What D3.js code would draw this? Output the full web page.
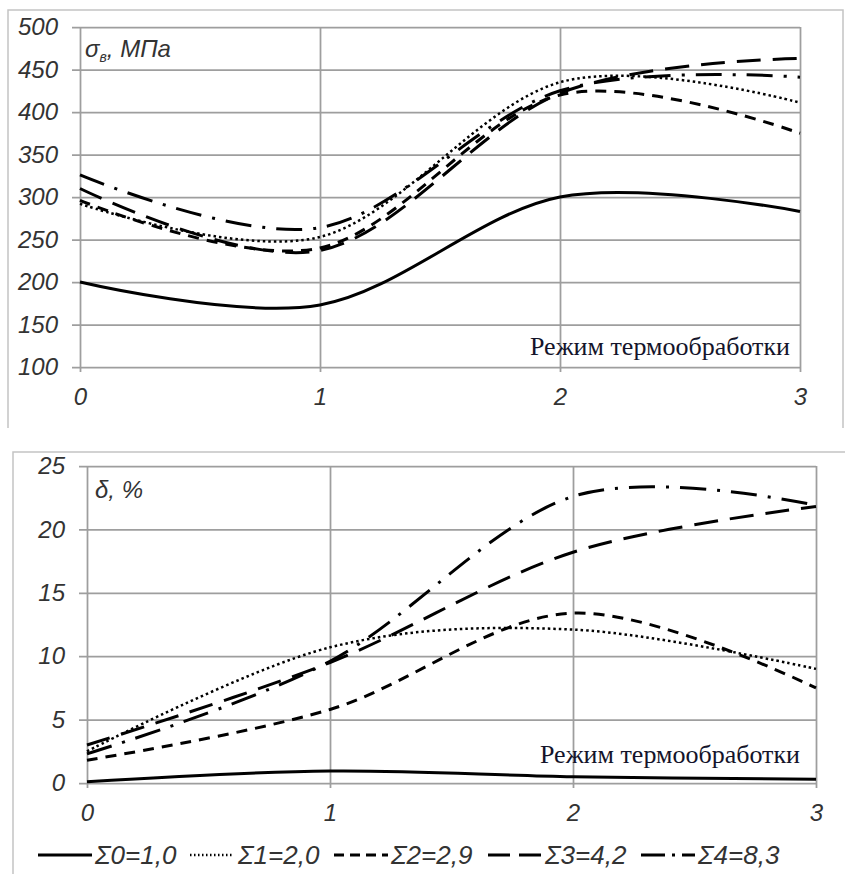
<!DOCTYPE html>
<html>
<head>
<meta charset="utf-8">
<script src="https://cdn.jsdelivr.net/npm/d3@7/dist/d3.min.js"></script>
<style>
    body { margin: 0; background: #fff; }
    svg { display: block; }
</style>
</head>
<body>
<svg id="chart" width="845" height="874"></svg>
<script>
// режимы термообработки (ось X)
var modes = [0, 1, 2, 3];
var sigmaTicks = [100, 150, 200, 250, 300, 350, 400, 450, 500];
var deltaTicks = [0, 5, 10, 15, 20, 25];

var seriesNames = ["Σ0=1,0", "Σ1=2,0", "Σ2=2,9", "Σ3=4,2", "Σ4=8,3"];

// предел прочности, МПа
var sigma0 = [200, 173, 300, 283];
var sigma1 = [292, 253, 435, 411];
var sigma2 = [296, 240, 420, 375];
var sigma3 = [310, 237, 422, 463];
var sigma4 = [326, 264, 425, 441];

// относительное удлинение, %
var delta0 = [0.1, 0.95, 0.5, 0.3];
var delta1 = [2.5, 10.7, 12.1, 9.0];
var delta2 = [1.8, 5.8, 13.4, 7.5];
var delta3 = [3.0, 9.5, 18.2, 21.8];
var delta4 = [2.3, 9.6, 22.6, 21.9];

// стили линий для каждой серии
var dashes = ["none", "2.5,3", "11,8", "24,12", "26,11,3,11"];
var legendDashes = ["none", "1.5,2.5", "10,6", "22,9", "24,7,3,7"];
var widths = [3, 2.5, 3, 3, 3];

var SANS = "'Liberation Sans', Arial, sans-serif";
var SERIF = "'Liberation Serif', 'DejaVu Serif', 'Times New Roman', serif";

var svg = d3.select("#chart");

/**
 * Одна панель графика.
 * @param {Object} options
 * @config {Array} box [left, top, right, bottom] области построения.
 * @config {Array} domain диапазон значений оси Y.
 * @config {Array} ticks подписи оси Y.
 * @config {Array} series значения серий.
 */
var Panel = function (options) {
    for (var attr in options) {
        this[attr] = options[attr];
    }
    this.x = d3.scaleLinear().domain([0, 3]).range([this.box[0], this.box[2]]);
    this.y = d3.scaleLinear().domain(this.domain).range([this.box[3], this.box[1]]);
    this.g = svg.append("g");
    this.drawFrame();
    this.drawAxes();
    this.drawLines();
    this.drawLabels();
}

Panel.prototype.drawFrame = function () {
    var f = this.frame;
    this.g.append("path")
        .attr("d", "M" + f[0] + "," + f[3] + "V" + f[1] + "H" + f[2] + (f[4] ? "V" + f[3] : ""))
        .attr("fill", "none")
        .attr("stroke", "#c4c4c4")
        .attr("stroke-width", 1.5);
}

Panel.prototype.drawAxes = function () {
    var w = this.box[2] - this.box[0];
    var h = this.box[3] - this.box[1];

    var yAxis = d3.axisLeft(this.y)
        .tickValues(this.ticks)
        .tickSize(-(w + 8))
        .tickPadding(14);
    var xAxis = d3.axisBottom(this.x)
        .tickValues(modes)
        .tickFormat(d3.format("d"))
        .tickSize(-(h + 5))
        .tickPadding(16);

    var gy = this.g.append("g")
        .attr("transform", "translate(" + (this.box[0] - 8) + ",0)")
        .call(yAxis);
    var gx = this.g.append("g")
        .attr("transform", "translate(0," + (this.box[3] + 5) + ")")
        .call(xAxis);

    [gx, gy].forEach(function (ax) {
        ax.select(".domain").remove();
        ax.selectAll("line").attr("stroke", "#9e9e9e").attr("stroke-width", 1.75);
        ax.selectAll("text")
            .attr("fill", "#333")
            .attr("font-family", SANS)
            .attr("font-style", "italic")
            .attr("font-size", 24);
    });
}

Panel.prototype.drawLines = function () {
    var thiz = this;
    var line = d3.line()
        .x(function (d, i) { return thiz.x(modes[i]); })
        .y(function (d) { return thiz.y(d); })
        .curve(d3.curveCardinal.tension(0));

    this.g.selectAll("path.series")
        .data(this.series)
        .enter()
        .append("path")
        .attr("class", "series")
        .attr("d", line)
        .attr("fill", "none")
        .attr("stroke", "#000")
        .attr("stroke-width", function (d, i) { return widths[i]; })
        .attr("stroke-dasharray", function (d, i) { return dashes[i]; });
}

Panel.prototype.drawLabels = function () {
    var t = this.g.append("text")
        .attr("x", this.box[0] + this.titlePos[0])
        .attr("y", this.box[1] + this.titlePos[1])
        .attr("fill", "#333")
        .attr("font-family", SANS)
        .attr("font-style", "italic")
        .attr("font-size", 24);
    this.title(t);

    this.g.append("text")
        .attr("x", this.box[2] - this.notePos[0])
        .attr("y", this.box[3] - this.notePos[1])
        .attr("text-anchor", "end")
        .attr("fill", "#14142a")
        .attr("font-family", SERIF)
        .attr("font-size", 26)
        .text("Режим термообработки");
}

var top = new Panel({
    box: [80, 27, 800, 367],
    frame: [8, 10, 843, 428, true],
    domain: [100, 500],
    ticks: sigmaTicks,
    series: [sigma0, sigma1, sigma2, sigma3, sigma4],
    titlePos: [5, 30],
    notePos: [10, 12],
    title: function (t) {
        t.append("tspan").text("σ");
        t.append("tspan").attr("font-size", 14).attr("dy", 5).text("в");
        t.append("tspan").attr("dy", -5).text(", МПа");
    }
});

var bottom = new Panel({
    box: [87, 466, 816, 783],
    frame: [13, 452, 846, 880, false],
    domain: [0, 25],
    ticks: deltaTicks,
    series: [delta0, delta1, delta2, delta3, delta4],
    titlePos: [8, 32],
    notePos: [16, 20],
    title: function (t) {
        t.text("δ, %");
    }
});

// легенда
var legendX = [38, 190, 334, 488, 641];
var legend = svg.append("g").attr("transform", "translate(0,855)");
legend.selectAll("g.item")
    .data(seriesNames)
    .enter()
    .append("g")
    .attr("class", "item")
    .each(function (name, i) {
        var item = d3.select(this).attr("transform", "translate(" + legendX[i] + ",0)");
        item.append("line")
            .attr("x1", 0).attr("x2", i == 1 ? 43 : 54)
            .attr("y1", 0).attr("y2", 0)
            .attr("stroke", "#000")
            .attr("stroke-width", widths[i])
            .attr("stroke-dasharray", legendDashes[i]);
        item.append("text")
            .attr("x", i == 1 ? 48 : 57)
            .attr("y", 9)
            .attr("fill", "#333")
            .attr("font-family", SANS)
            .attr("font-style", "italic")
            .attr("font-size", 26)
            .text(name);
    });
</script>
</body>
</html>
